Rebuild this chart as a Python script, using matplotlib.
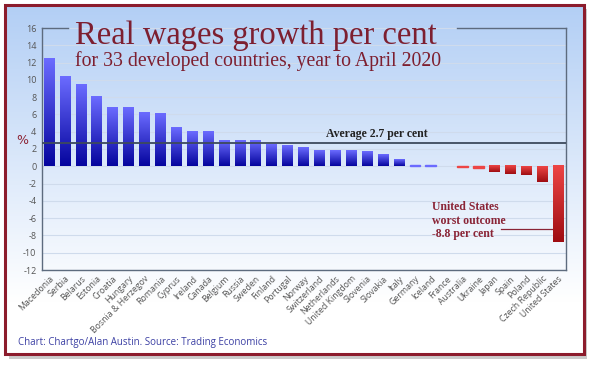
import numpy as np
import matplotlib
matplotlib.use("Agg")
import matplotlib.pyplot as plt
from matplotlib.patches import Rectangle

countries = [
    "Macedonia", "Serbia", "Belarus", "Estonia", "Croatia", "Hungary",
    "Bosnia & Herzegov", "Romania", "Cyprus", "Ireland", "Canada", "Belgium",
    "Russia", "Sweden", "Finland", "Portugal", "Norway", "Switzerland",
    "Netherlands", "United Kingdom", "Slovenia", "Slovakia", "Italy",
    "Germany", "Iceland", "France", "Australia", "Ukraine", "Japan", "Spain",
    "Poland", "Czech Republic", "United States",
]
growth = [
    12.4, 10.3, 9.4, 8.0, 6.8, 6.8, 6.2, 6.1, 4.4, 4.0, 3.95, 3.0,
    3.0, 3.0, 2.5, 2.4, 2.1, 1.85, 1.75, 1.75, 1.65, 1.3, 0.7,
    0.1, 0.1, 0.0, -0.1, -0.15, -0.7, -0.95, -1.0, -1.8, -8.8,
]
average = 2.7
yticks = list(range(-12, 17, 2))

W, H = 600, 370
fig = plt.figure(figsize=(6, 3.7), dpi=100, facecolor="white")

# background panel with frame and shadow
bg = fig.add_axes([0, 0, 1, 1], zorder=-5)
bg.set_xlim(0, W)
bg.set_ylim(H, 0)
bg.axis("off")
bg.add_patch(Rectangle((9, 9), 578, 350, facecolor="#a9a9a9", edgecolor="none", alpha=0.6))
grad = np.linspace(0, 1, 256).reshape(-1, 1)
top_c = np.array([0.70, 0.81, 0.96])
bot_c = np.array([1.0, 1.0, 1.0])
t = np.clip(grad / 0.85, 0, 1)
img = top_c + (bot_c - top_c) * t
bg.imshow(img.reshape(256, 1, 3), extent=[5, 584, 354, 5], aspect="auto", zorder=1)
bg.add_patch(Rectangle((5, 5), 579, 349, facecolor="none", edgecolor="#8c1c2c", lw=2.2, zorder=2))

ax = fig.add_axes([42 / W, 1 - 270 / H, (566 - 42) / W, (270 - 28) / H])
ax.set_facecolor("none")
x = np.arange(len(countries))
bars = ax.bar(x, growth, width=0.68, color="none", edgecolor="none", zorder=3)

blue = np.array([[0.42, 0.42, 1.0], [0.02, 0.02, 0.62]])
red = np.array([[0.93, 0.27, 0.27], [0.62, 0.05, 0.07]])
for b, v in zip(bars, growth):
    if v == 0:
        continue
    x0, y0 = b.get_x(), b.get_y()
    w, h = b.get_width(), b.get_height()
    ylo, yhi = min(y0, y0 + h), max(y0, y0 + h)
    cols = blue if v > 0 else red
    if abs(v) < 0.3:
        ax.add_patch(Rectangle((x0, ylo), w, yhi - ylo, color=cols[0], zorder=3))
        continue
    g = np.linspace(0, 1, 64).reshape(-1, 1, 1)
    im = cols[0] + (cols[1] - cols[0]) * g
    # row 0 (light) at the top of each bar
    ax.imshow(im, extent=[x0, x0 + w, ylo, yhi], aspect="auto", zorder=3,
              interpolation="bilinear")

ax.axhline(average, color="#3d4a5c", lw=1.3, zorder=4)
ax.text(20.6, average + 0.35, "Average 2.7 per cent", ha="center", va="bottom",
        fontsize=8.5, fontweight="bold", family="Liberation Serif", color="#222222")

ax.text(24.1, -4.0, "United States\nworst outcome\n-8.8 per cent", ha="left", va="top",
        fontsize=8.5, fontweight="bold", family="Liberation Serif", color="#8a2436",
        linespacing=1.2)
ax.plot([28.4, 31.6], [-7.2, -7.2], color="#8a2436", lw=0.9, zorder=4)

ax.set_xlim(-0.45, len(countries) - 0.5)
ax.set_ylim(-12, 16)
ax.set_yticks(yticks)
ax.set_yticklabels([str(v) for v in yticks], fontsize=6.5, color="#555555", family="Open Sans")
ax.set_xticks(x)
ax.set_xticklabels(countries, rotation=45, ha="right", rotation_mode="anchor",
                   fontsize=6.3, color="#555555", family="Open Sans")
ax.tick_params(length=0, pad=4)
ax.tick_params(axis="x", pad=3)
ax.grid(axis="y", color="#cfdbec", lw=0.8, zorder=0)
ax.set_axisbelow(True)

for s in ["left", "bottom", "right"]:
    ax.spines[s].set_color("#5d6b7e")
    ax.spines[s].set_linewidth(1.0)
ax.spines["top"].set_visible(False)
ax.plot([0, 26 / 524], [1, 1], transform=ax.transAxes, color="#5d6b7e", lw=1.0, clip_on=False)
ax.plot([415 / 524, 1], [1, 1], transform=ax.transAxes, color="#5d6b7e", lw=1.0, clip_on=False)

fig.text(22 / W, 1 - 140 / H, "%", fontsize=9, color="#8c2233", ha="center", va="center")

fig.text(75 / W, 1 - 44 / H, "Real wages growth per cent", fontsize=23.5,
         family="Liberation Serif", color="#7d1f30", ha="left", va="baseline")
fig.text(75 / W, 1 - 66 / H, "for 33 developed countries, year to April 2020", fontsize=14.2,
         family="Liberation Serif", color="#7d1f30", ha="left", va="baseline")

fig.text(18 / W, 1 - 342 / H, "Chart: Chartgo/Alan Austin. Source: Trading Economics",
         fontsize=7, family="Open Sans", color="#3b3fa3", ha="left", va="center")

fig.savefig("out.png", dpi=100)
